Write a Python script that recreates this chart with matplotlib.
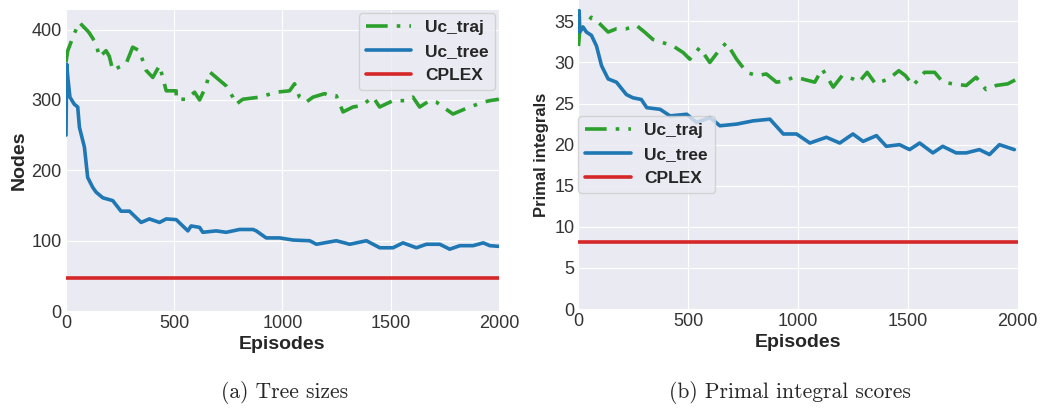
import matplotlib.pyplot as plt

plt.style.use("seaborn-v0_8-darkgrid")
plt.rcParams["font.family"] = ["Liberation Sans", "DejaVu Sans"]

# === Data ===
# (a) tree sizes
tree_ep = [0, 3, 9, 18, 38, 54, 62, 85, 100, 123, 139, 170, 216, 254, 293, 347,
           385, 432, 463, 509, 563, 578, 617, 632, 694, 740, 771, 802, 864, 879,
           925, 987, 1049, 1126, 1157, 1249, 1311, 1388, 1450, 1511, 1557, 1619,
           1665, 1727, 1773, 1820, 1881, 1928, 1958, 2000]
tree_nodes = [250, 351, 330, 304, 294, 290, 261, 233, 190, 176, 169, 161, 157,
              142, 142, 126, 131, 126, 131, 130, 114, 121, 119, 112, 114, 112,
              114, 116, 116, 114, 104, 104, 101, 100, 95, 100, 95, 100, 90, 90,
              97, 90, 95, 95, 88, 93, 93, 97, 93, 92]

traj_ep = [0, 8, 39, 62, 100, 108, 139, 154, 185, 200, 216, 247, 277, 308, 339,
           370, 401, 432, 463, 509, 509, 555, 594, 617, 648, 663, 694, 740, 771,
           786, 817, 894, 971, 1033, 1056, 1079, 1110, 1141, 1195, 1218, 1249,
           1280, 1326, 1365, 1419, 1449, 1511, 1572, 1603, 1634, 1680, 1711,
           1742, 1788, 1865, 1930, 1958, 2000]
traj_nodes = [354, 370, 395, 410, 398, 395, 380, 361, 370, 362, 342, 347, 351,
              375, 370, 342, 332, 349, 313, 313, 301, 301, 311, 300, 320, 340,
              332, 320, 304, 294, 301, 304, 311, 313, 323, 304, 297, 304, 309,
              306, 306, 283, 290, 292, 304, 290, 299, 299, 304, 290, 299, 297,
              290, 280, 290, 297, 299, 301]

cplex_nodes = 46.5

# (b) primal integral scores
ptree_ep = [0, 3, 6, 21, 36, 59, 82, 105, 135, 173, 218, 248, 286, 311, 372,
            417, 493, 538, 599, 644, 720, 796, 872, 933, 993, 1054, 1129, 1190,
            1250, 1296, 1357, 1402, 1462, 1508, 1554, 1614, 1659, 1720, 1766,
            1826, 1872, 1917, 1985]
ptree_val = [34.5, 36.3, 33.7, 34.3, 33.7, 33.3, 32.0, 29.6, 28.0, 27.6, 26.1,
             25.7, 25.5, 24.5, 24.3, 23.5, 23.7, 22.7, 23.3, 22.3, 22.5, 22.9,
             23.1, 21.3, 21.3, 20.2, 20.9, 20.2, 21.3, 20.4, 21.1, 19.8, 20.0,
             19.4, 20.2, 19.0, 19.8, 19.0, 19.0, 19.4, 18.8, 20.0, 19.4]

ptraj_ep = [0, 6, 29, 59, 97, 135, 173, 218, 264, 301, 339, 386, 431, 477, 507,
            552, 598, 644, 674, 720, 766, 811, 856, 902, 947, 977, 1019, 1076,
            1110, 1160, 1201, 1250, 1277, 1315, 1353, 1413, 1459, 1489, 1524,
            1576, 1622, 1660, 1705, 1766, 1811, 1856, 1902, 1955, 1998]
ptraj_val = [32.0, 34.0, 34.5, 35.5, 34.7, 33.7, 34.1, 34.1, 34.5, 33.7, 32.8,
             32.4, 32.0, 31.2, 30.4, 31.8, 30.0, 31.6, 32.4, 30.4, 28.8, 28.4,
             28.6, 27.6, 27.8, 28.2, 28.0, 27.6, 29.2, 27.0, 28.4, 28.0, 27.6,
             28.8, 27.4, 28.0, 29.0, 28.4, 27.2, 28.8, 28.8, 27.6, 27.4, 27.2,
             28.2, 26.7, 27.2, 27.4, 28.0]

cplex_primal = 8.1

# === Figure ===
fig = plt.figure(figsize=(10.48, 4.11), dpi=100)
ax1 = fig.add_axes([0.063, 0.243, 0.413, 0.733])
ax2 = fig.add_axes([0.552, 0.248, 0.419, 0.752])

lw = 2.6
dash = (0, (6, 2.5, 1, 2.5))

ax1.plot(traj_ep, traj_nodes, color="#2ca02c", lw=lw, linestyle=dash, label="Uc_traj")
ax1.plot(tree_ep, tree_nodes, color="#1f77b4", lw=lw, label="Uc_tree")
ax1.axhline(cplex_nodes, color="#d62728", lw=lw, label="CPLEX")
ax1.set_xlim(0, 2000)
ax1.set_ylim(0, 428)
ax1.set_xticks([0, 500, 1000, 1500, 2000])
ax1.set_yticks([0, 100, 200, 300, 400])
ax1.set_xlabel("Episodes", fontsize=14, fontweight="bold", labelpad=3)
ax1.set_ylabel("Nodes", fontsize=14, fontweight="bold", labelpad=3)
ax1.legend(loc="upper right", frameon=True, facecolor="#EAEAF2",
           prop={"weight": "bold", "size": 12.5}, handlelength=2.6,
           borderaxespad=0.2)

ax2.plot(ptraj_ep, ptraj_val, color="#2ca02c", lw=lw, linestyle=dash, label="Uc_traj")
ax2.plot(ptree_ep, ptree_val, color="#1f77b4", lw=lw, label="Uc_tree")
ax2.axhline(cplex_primal, color="#d62728", lw=lw, label="CPLEX")
ax2.set_xlim(0, 2000)
ax2.set_ylim(0, 37.6)
ax2.set_xticks([0, 500, 1000, 1500, 2000])
ax2.set_yticks([0, 5, 10, 15, 20, 25, 30, 35])
ax2.set_xlabel("Episodes", fontsize=14, fontweight="bold", labelpad=3)
ax2.set_ylabel("Primal integrals", fontsize=12, fontweight="bold", labelpad=4)
ax2.legend(loc="center left", bbox_to_anchor=(0, 0.5), frameon=True,
           facecolor="#EAEAF2", prop={"weight": "bold", "size": 12.5},
           handlelength=2.6, borderaxespad=0.0)

for ax in (ax1, ax2):
    ax.tick_params(labelsize=13, colors="#333333", pad=3)

fig.text(0.272, 0.044, "(a) Tree sizes", fontsize=15.5, family="cmr10",
         ha="center", va="center")
fig.text(0.754, 0.044, "(b) Primal integral scores", fontsize=15.5,
         family="cmr10", ha="center", va="center")

fig.savefig("out.png", dpi=100)
